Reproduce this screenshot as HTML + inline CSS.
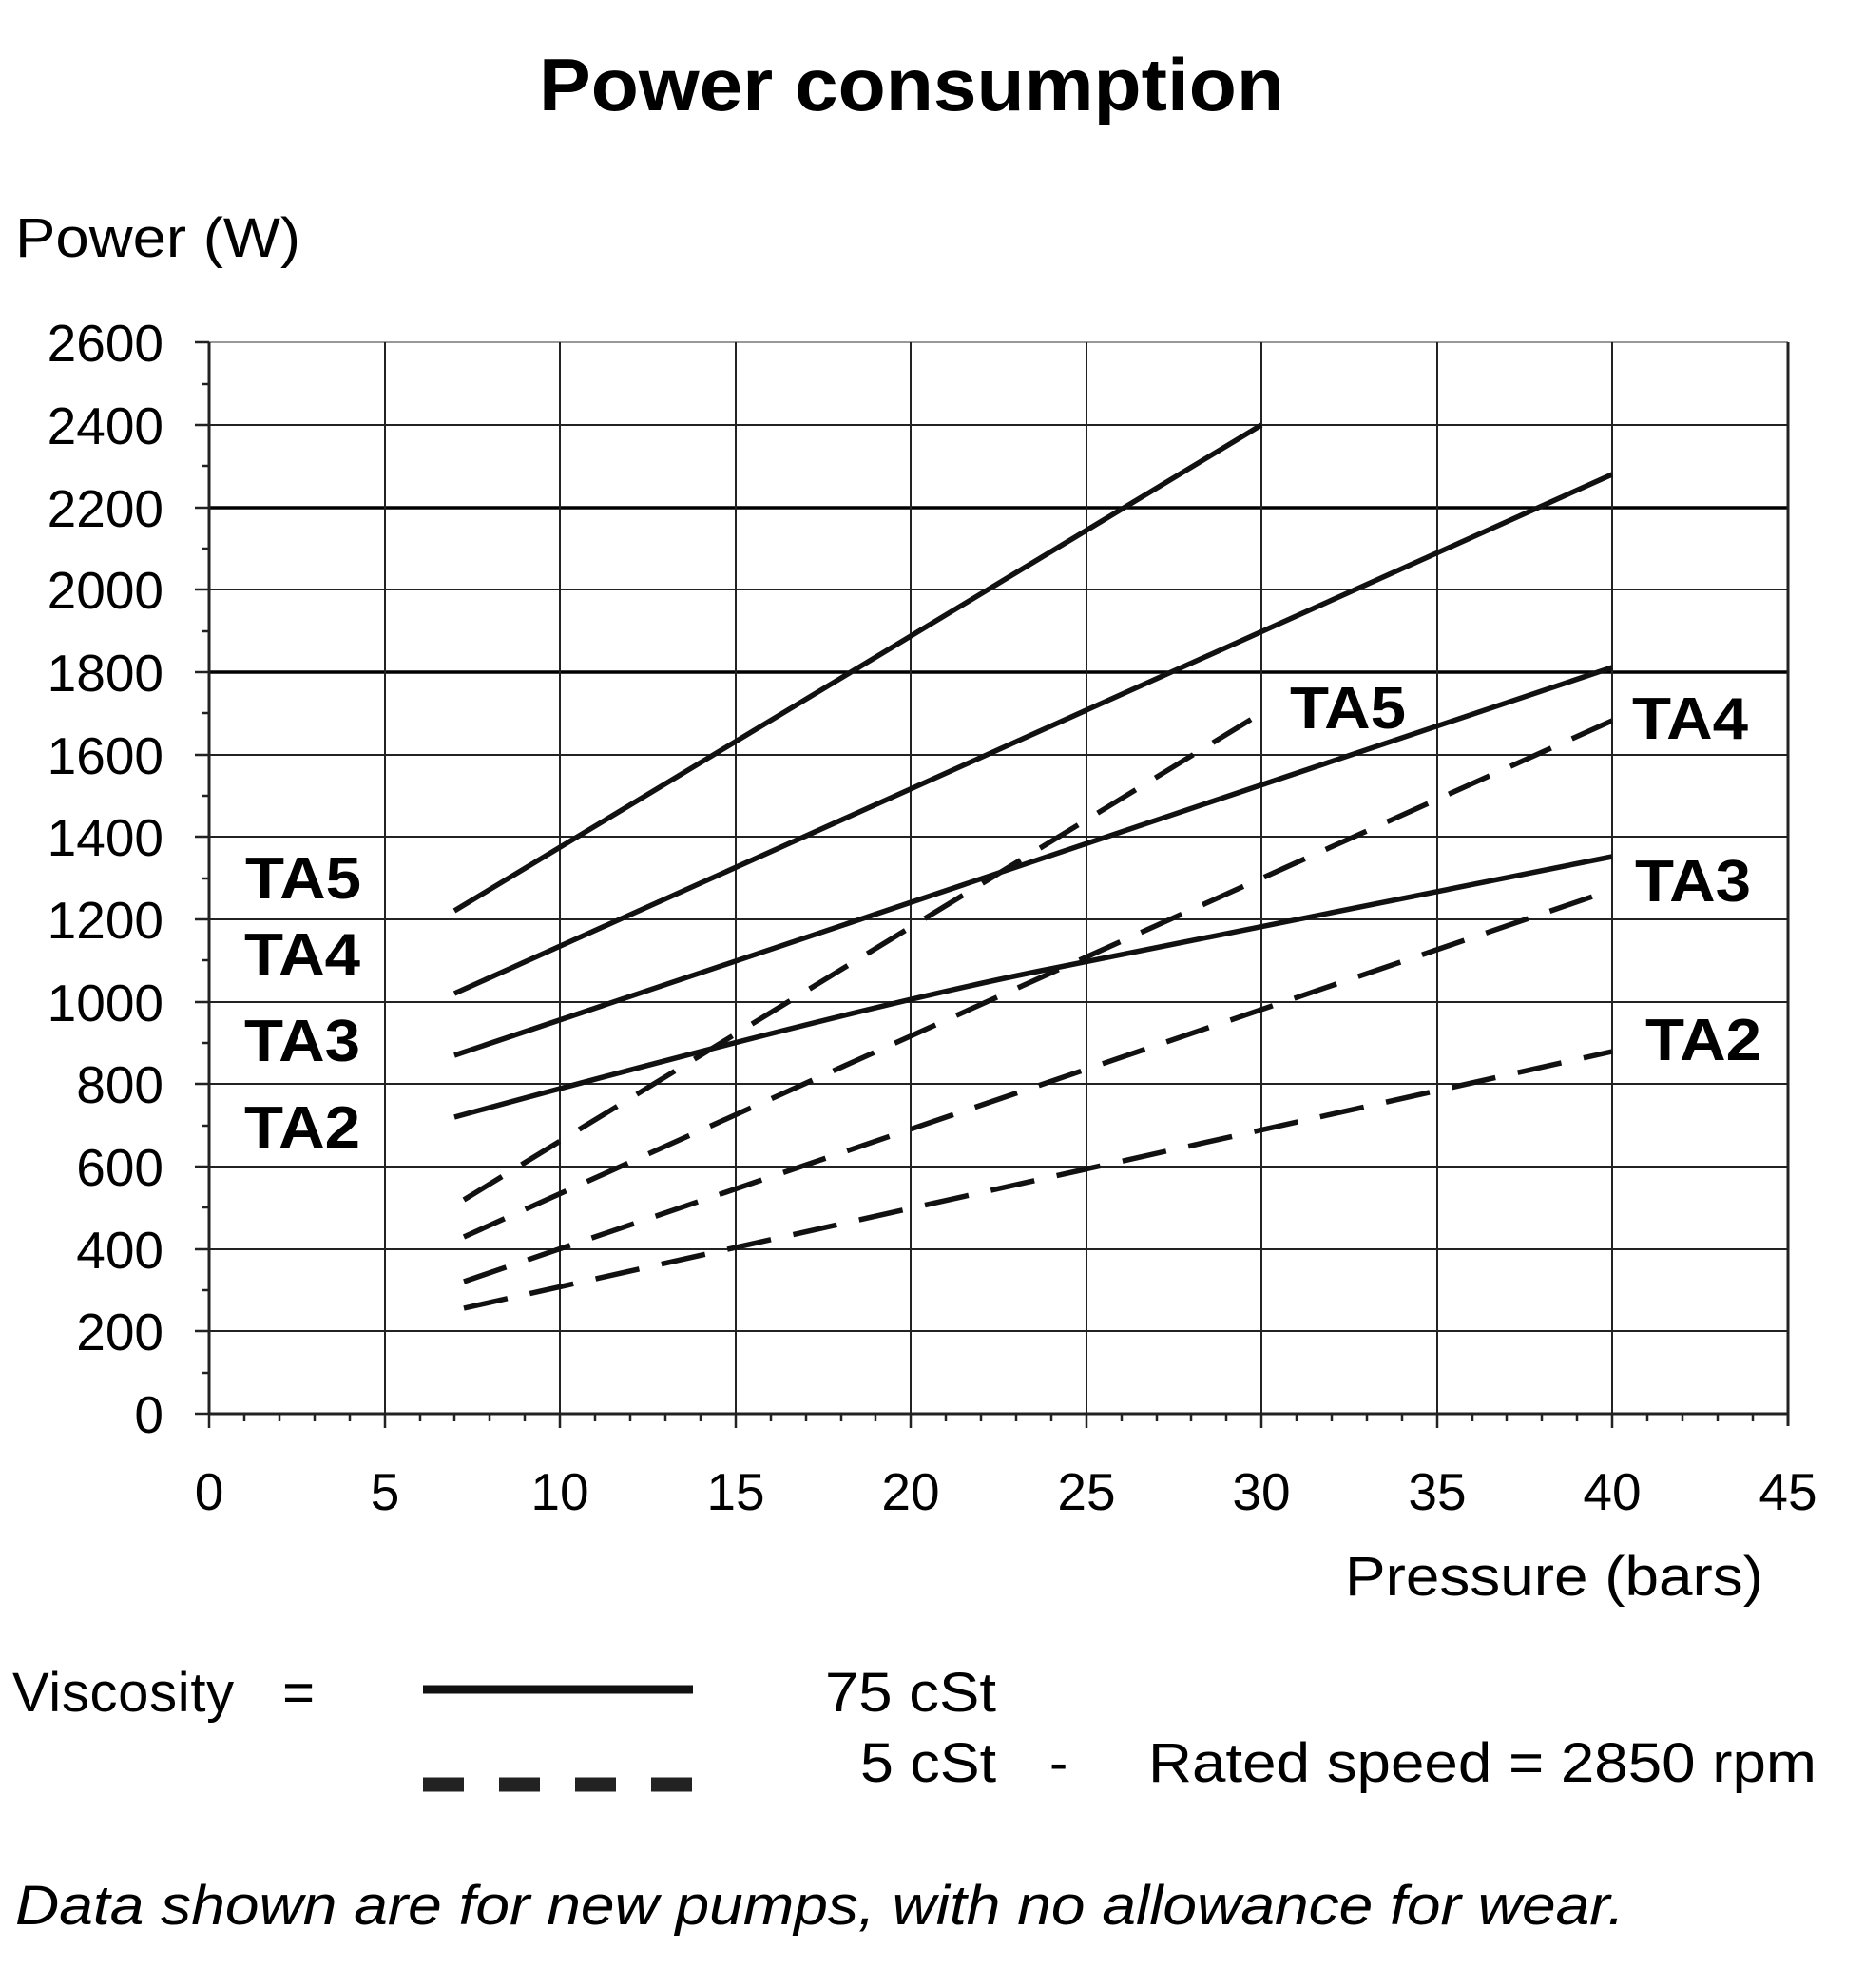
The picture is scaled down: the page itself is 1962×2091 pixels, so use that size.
<!DOCTYPE html>
<html><head><meta charset="utf-8"><style>
html,body{margin:0;padding:0;background:#fff;}
svg{display:block;}
text{font-family:"Liberation Sans",Arial,sans-serif;fill:#000;}
</style></head><body>
<svg width="1962" height="2091" viewBox="0 0 1962 2091" xmlns="http://www.w3.org/2000/svg">
<text x="567" y="116" font-size="78" font-weight="bold" textLength="784" lengthAdjust="spacingAndGlyphs">Power consumption</text>
<text x="16" y="270" font-size="58" textLength="300" lengthAdjust="spacingAndGlyphs">Power (W)</text>
<g stroke="#222" stroke-width="2">
<line x1="220" y1="360" x2="1881" y2="360" stroke="#999"/>
<line x1="220" y1="447" x2="1881" y2="447"/>
<line x1="220" y1="534" x2="1881" y2="534" stroke-width="3.5" stroke="#000"/>
<line x1="220" y1="620" x2="1881" y2="620"/>
<line x1="220" y1="707" x2="1881" y2="707" stroke-width="3.5" stroke="#000"/>
<line x1="220" y1="794" x2="1881" y2="794"/>
<line x1="220" y1="880" x2="1881" y2="880"/>
<line x1="220" y1="967" x2="1881" y2="967"/>
<line x1="220" y1="1054" x2="1881" y2="1054"/>
<line x1="220" y1="1140" x2="1881" y2="1140"/>
<line x1="220" y1="1227" x2="1881" y2="1227"/>
<line x1="220" y1="1314" x2="1881" y2="1314"/>
<line x1="220" y1="1400" x2="1881" y2="1400"/>
<line x1="220" y1="1487" x2="1881" y2="1487" stroke-width="3"/>
<line x1="220" y1="360" x2="220" y2="1487" stroke-width="3"/>
<line x1="405" y1="360" x2="405" y2="1487"/>
<line x1="589" y1="360" x2="589" y2="1487"/>
<line x1="774" y1="360" x2="774" y2="1487"/>
<line x1="958" y1="360" x2="958" y2="1487"/>
<line x1="1143" y1="360" x2="1143" y2="1487"/>
<line x1="1327" y1="360" x2="1327" y2="1487"/>
<line x1="1512" y1="360" x2="1512" y2="1487"/>
<line x1="1696" y1="360" x2="1696" y2="1487"/>
<line x1="1881" y1="360" x2="1881" y2="1500" stroke-width="3"/>
</g>
<g stroke="#222" stroke-width="2.5">
<path d="M205 360h15M205 447h15M205 534h15M205 620h15M205 707h15M205 794h15M205 880h15M205 967h15M205 1054h15M205 1140h15M205 1227h15M205 1314h15M205 1400h15M205 1487h15
M212 404h8M212 490h8M212 577h8M212 664h8M212 750h8M212 837h8M212 924h8M212 1010h8M212 1097h8M212 1184h8M212 1270h8M212 1357h8M212 1444h8"/>
<path d="M220 1487v15M405 1487v15M589 1487v15M774 1487v15M958 1487v15M1143 1487v15M1327 1487v15M1512 1487v15M1696 1487v15
M257 1487v8M294 1487v8M331 1487v8M368 1487v8M442 1487v8M478 1487v8M515 1487v8M552 1487v8M626 1487v8M663 1487v8M700 1487v8M737 1487v8M811 1487v8M848 1487v8M885 1487v8M921 1487v8M995 1487v8M1032 1487v8M1069 1487v8M1106 1487v8M1180 1487v8M1217 1487v8M1253 1487v8M1290 1487v8M1364 1487v8M1401 1487v8M1438 1487v8M1475 1487v8M1549 1487v8M1585 1487v8M1622 1487v8M1659 1487v8M1733 1487v8M1770 1487v8M1807 1487v8M1844 1487v8"/>
</g>
<g font-size="55" text-anchor="end">
<text x="172" y="380">2600</text><text x="172" y="467">2400</text><text x="172" y="554">2200</text><text x="172" y="640">2000</text><text x="172" y="727">1800</text><text x="172" y="814">1600</text><text x="172" y="900">1400</text><text x="172" y="987">1200</text><text x="172" y="1074">1000</text><text x="172" y="1160">800</text><text x="172" y="1247">600</text><text x="172" y="1334">400</text><text x="172" y="1420">200</text><text x="172" y="1507">0</text>
</g>
<g font-size="55" text-anchor="middle">
<text x="220" y="1588">0</text><text x="405" y="1588">5</text><text x="589" y="1588">10</text><text x="774" y="1588">15</text><text x="958" y="1588">20</text><text x="1143" y="1588">25</text><text x="1327" y="1588">30</text><text x="1512" y="1588">35</text><text x="1696" y="1588">40</text><text x="1881" y="1588">45</text>
</g>
<text x="1415" y="1678" font-size="58" textLength="440" lengthAdjust="spacingAndGlyphs">Pressure (bars)</text>
<g stroke="#111" stroke-width="5.5" fill="none" stroke-linecap="butt">
<line x1="478" y1="958" x2="1327" y2="447"/>
<line x1="478" y1="1045" x2="1696" y2="499"/>
<line x1="478" y1="1110" x2="1696" y2="702"/>
<path d="M478 1175 Q900 1060 1100 1020 T1696 901"/>
</g>
<g stroke="#111" stroke-width="5.5" fill="none" stroke-dasharray="47 24">
<line x1="488" y1="1262" x2="1327" y2="750"/>
<line x1="488" y1="1301" x2="1696" y2="758"/>
<line x1="488" y1="1348" x2="1696" y2="936"/>
<line x1="488" y1="1376" x2="1696" y2="1106"/>
</g>
<g font-size="62" font-weight="bold">
<text x="258" y="945" textLength="122" lengthAdjust="spacingAndGlyphs">TA5</text>
<text x="257" y="1025" textLength="122" lengthAdjust="spacingAndGlyphs">TA4</text>
<text x="257" y="1116" textLength="122" lengthAdjust="spacingAndGlyphs">TA3</text>
<text x="257" y="1207" textLength="122" lengthAdjust="spacingAndGlyphs">TA2</text>
<text x="1357" y="766" textLength="122" lengthAdjust="spacingAndGlyphs">TA5</text>
<text x="1717" y="777" textLength="122" lengthAdjust="spacingAndGlyphs">TA4</text>
<text x="1720" y="948" textLength="122" lengthAdjust="spacingAndGlyphs">TA3</text>
<text x="1731" y="1115" textLength="122" lengthAdjust="spacingAndGlyphs">TA2</text>
</g>
<text x="13" y="1800" font-size="58" textLength="318" lengthAdjust="spacing" xml:space="preserve">Viscosity   =</text>
<line x1="445" y1="1777" x2="729" y2="1777" stroke="#111" stroke-width="9"/>
<line x1="445" y1="1877" x2="729" y2="1877" stroke="#222" stroke-width="15" stroke-dasharray="43 37"/>
<text x="868" y="1800" font-size="58" textLength="180" lengthAdjust="spacingAndGlyphs">75 cSt</text>
<text x="905" y="1874" font-size="58" textLength="143" lengthAdjust="spacingAndGlyphs">5 cSt</text>
<text x="1104" y="1874" font-size="58">-</text>
<text x="1208" y="1874" font-size="58" textLength="703" lengthAdjust="spacingAndGlyphs">Rated speed = 2850 rpm</text>
<text x="16" y="2024" font-size="58" font-style="italic" textLength="1693" lengthAdjust="spacingAndGlyphs">Data shown are for new pumps, with no allowance for wear.</text>
</svg>
</body></html>
